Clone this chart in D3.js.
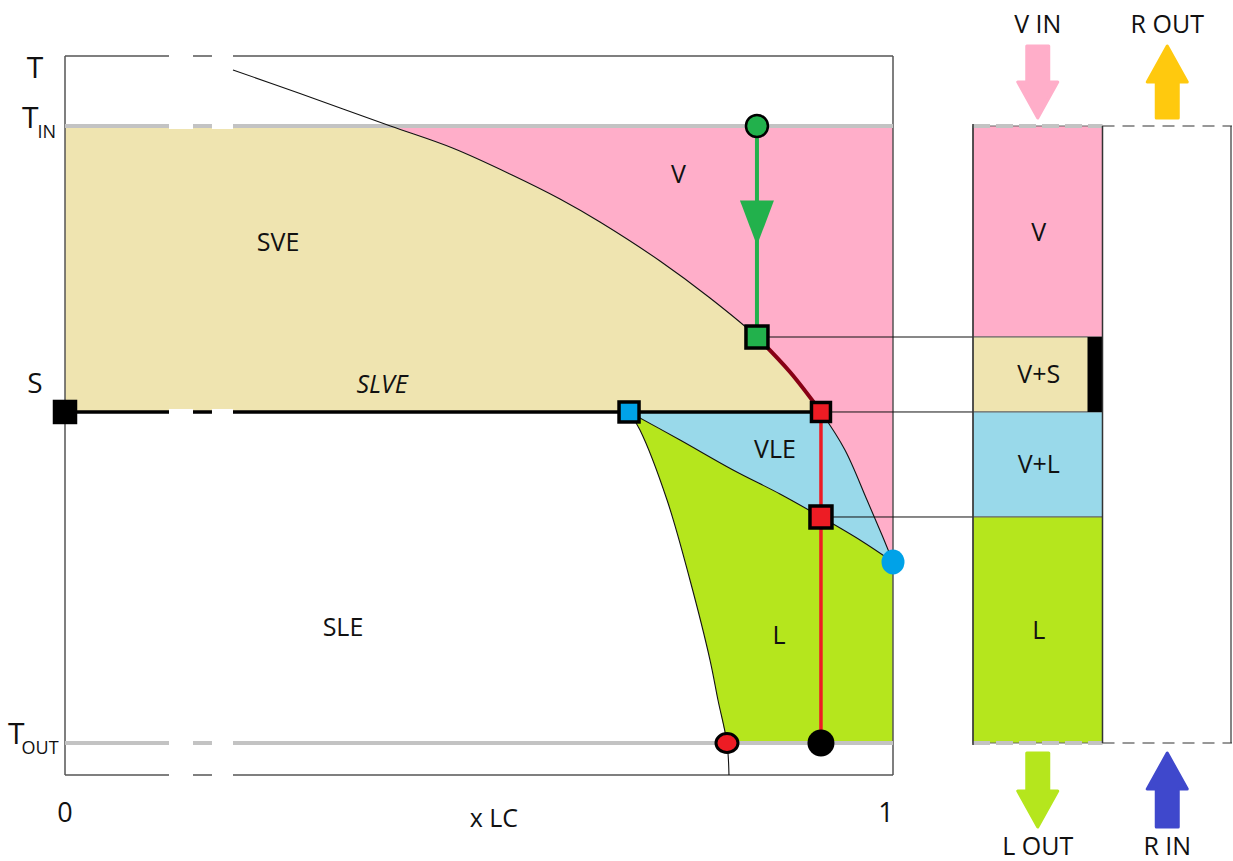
<!DOCTYPE html>
<html>
<head>
<meta charset="utf-8">
<script src="https://cdn.jsdelivr.net/npm/d3@7"></script>
<style>
  body { margin: 0; background: #fff; }
  text { font-family: "Open Sans", sans-serif; fill: #111; }
</style>
</head>
<body>
<div id="chart"></div>
<script>
// temperatures (T_OUT = 0, T_IN = 1) and compositions (x LC, 0..1)
const tTop = 1.1135, tBottom = -0.0519;
const tIn = 1, tOut = 0, tS = 0.5365;
const tDew = 0.658, tBub = 0.3663, tCrit = 0.2934;
const xFeed = 0.8357, xLiq = 0.913, xEut = 0.6812, xSolOut = 0.7995;

// upper (vapour) boundary
const dewX = [0.2029, 0.2838, 0.393, 0.468, 0.5399, 0.5978, 0.6461, 0.7186, 0.779, 0.8357, 0.8756, 0.913, 0.942, 0.9686, 0.9867, 1.0];
const dewT = [1.0908, 1.0527, 1.0, 0.9643, 0.9206, 0.8817, 0.8444, 0.7812, 0.7212, 0.658, 0.6013, 0.5365, 0.4749, 0.3938, 0.3371, 0.2934];
// lower VLE boundary
const bubX = [0.6812, 0.7428, 0.8068, 0.8635, 0.913, 0.9601, 1.0];
const bubT = [0.5365, 0.4911, 0.4425, 0.4036, 0.3663, 0.329, 0.2934];
// solid / liquid boundary
const solX = [0.6812, 0.6944, 0.7271, 0.7548, 0.779, 0.7886, 0.7995, 0.8019];
const solT = [0.5365, 0.5073, 0.3938, 0.2642, 0.1345, 0.0697, 0, -0.0519];

// breaks drawn in the horizontal lines
const gaps = [[0.1256, 0.1546], [0.1775, 0.2029]];

// right hand column
const colNames = ["mix", "R"];
const cellLabels = ["V", "V+S", "V+L", "L"];
const cellTop = [tIn, tDew, tS, tBub];
const cellBot = [tDew, tS, tBub, tOut];
const cellColors = ["#ffaec9", "#efe4b0", "#99d9ea", "#b5e61d"];

const arrowLabels = ["V IN", "R OUT", "L OUT", "R IN"];
const arrowCols = ["mix", "R", "mix", "R"];
const arrowSide = ["top", "top", "bottom", "bottom"];
const arrowDir = ["down", "up", "down", "up"];
const arrowColors = ["#ffaec9", "#ffc90e", "#b5e61d", "#3f48cc"];

const regionLabels = [
  { text: "V", x: 0.741, t: 0.908 },
  { text: "SVE", x: 0.2573, t: 0.798 },
  { text: "SLVE", x: 0.3829, t: 0.568 },
  { text: "VLE", x: 0.8575, t: 0.462 },
  { text: "SLE", x: 0.3357, t: 0.173 },
  { text: "L", x: 0.8623, t: 0.16 }
];

const W = 1233, H = 861;
const svg = d3.select("#chart").append("svg").attr("width", W).attr("height", H);

const x = d3.scaleLinear().domain([0, 1]).range([65, 893]);
const y = d3.scaleLinear().domain([0, 1]).range([743, 126]);
const colX = d3.scaleBand().domain(colNames).range([973, 1232]);

const pts = (xs, ts) => xs.map((v, i) => [v, ts[i]]);
const dew = pts(dewX, dewT);
const bub = pts(bubX, bubT);
const sol = pts(solX, solT);

const line = d3.line().x(d => x(d[0])).y(d => y(d[1])).curve(d3.curveCatmullRom);
const poly = d3.line().x(d => x(d[0])).y(d => y(d[1])).curve(d3.curveLinear);

// sample a smooth curve so fills follow the same shape as the line
function sampled(p) {
  const tmp = svg.append("path").attr("d", line(p));
  const node = tmp.node(), len = node.getTotalLength(), out = [];
  for (let i = 0; i <= 80; i++) {
    const q = node.getPointAtLength(len * i / 80);
    out.push([x.invert(q.x), y.invert(q.y)]);
  }
  tmp.remove();
  return out;
}

const dewTan = sampled(dew.slice(2, 12));
const dewPink = sampled(dew.slice(2));
const dewVle = sampled(dew.slice(11));
const bubS = sampled(bub);
const solS = sampled(sol.slice(0, 7));

// fills
svg.append("path").attr("fill", "#efe4b0")
  .attr("d", poly([[0, tIn], ...dewTan, [0, tS]]) + "Z");
svg.append("path").attr("fill", "#ffaec9")
  .attr("d", poly([...dewPink, [1, tIn]]) + "Z");
svg.append("path").attr("fill", "#99d9ea")
  .attr("d", poly([[xEut, tS], ...dewVle, ...bubS.slice().reverse()]) + "Z");
svg.append("path").attr("fill", "#b5e61d")
  .attr("d", poly([...bubS, [1, tOut], ...solS.slice().reverse()]) + "Z");

// frame
const frame = svg.append("g").attr("fill", "none").attr("stroke", "#555").attr("stroke-width", 1.5);
frame.append("line").attr("x1", x(0)).attr("x2", x(1)).attr("y1", y(tTop)).attr("y2", y(tTop));
frame.append("line").attr("x1", x(0)).attr("x2", x(1)).attr("y1", y(tBottom)).attr("y2", y(tBottom));
frame.append("line").attr("x1", x(0)).attr("x2", x(0)).attr("y1", y(tTop)).attr("y2", y(tBottom));
frame.append("line").attr("x1", x(1)).attr("x2", x(1)).attr("y1", y(tTop)).attr("y2", y(tBottom));

// T_IN / T_OUT / S lines
[tIn, tOut].forEach(t => {
  svg.append("line").attr("x1", x(0)).attr("x2", x(1)).attr("y1", y(t)).attr("y2", y(t))
    .attr("stroke", "#c3c3c3").attr("stroke-width", 4);
});
svg.append("line").attr("x1", x(0)).attr("x2", x(xLiq)).attr("y1", y(tS)).attr("y2", y(tS))
  .attr("stroke", "#000").attr("stroke-width", 3.5);

// breaks
[tTop, tIn, tS, tOut, tBottom].forEach(t => {
  gaps.forEach(g => {
    svg.append("rect").attr("x", x(g[0])).attr("width", x(g[1]) - x(g[0]))
      .attr("y", y(t) - 3).attr("height", 6).attr("fill", "#fff");
  });
});

// boundary curves
const curves = svg.append("g").attr("fill", "none").attr("stroke", "#111").attr("stroke-width", 1.1);
curves.append("path").attr("d", line(dew));
curves.append("path").attr("d", line(bub));
curves.append("path").attr("d", line(sol));

// path of the feed
svg.append("path").attr("d", line(dew.slice(9, 12)))
  .attr("fill", "none").attr("stroke", "#880015").attr("stroke-width", 4);
svg.append("line").attr("x1", x(xFeed)).attr("x2", x(xFeed)).attr("y1", y(tIn)).attr("y2", y(tDew))
  .attr("stroke", "#22b14c").attr("stroke-width", 4);
const ay = y((tIn + tDew) / 2);
svg.append("path").attr("fill", "#22b14c")
  .attr("d", `M${x(xFeed) - 17},${ay - 31} L${x(xFeed) + 17},${ay - 31} L${x(xFeed)},${ay + 14} Z`);
svg.append("line").attr("x1", x(xLiq)).attr("x2", x(xLiq)).attr("y1", y(tS)).attr("y2", y(tOut))
  .attr("stroke", "#ed1c24").attr("stroke-width", 3.5);

// connectors to the column
[[xFeed, tDew], [xLiq, tS], [xLiq, tBub]].forEach(p => {
  svg.append("line").attr("x1", x(p[0])).attr("x2", colX("mix") + colX.bandwidth())
    .attr("y1", y(p[1])).attr("y2", y(p[1])).attr("stroke", "#111").attr("stroke-width", 1);
});

// markers
function square(xv, tv, size, fill) {
  svg.append("rect").attr("x", x(xv) - size / 2).attr("y", y(tv) - size / 2)
    .attr("width", size).attr("height", size).attr("fill", fill)
    .attr("stroke", "#000").attr("stroke-width", 3.5);
}
function dot(xv, tv, rx, ry, fill, sw) {
  svg.append("ellipse").attr("cx", x(xv)).attr("cy", y(tv)).attr("rx", rx).attr("ry", ry)
    .attr("fill", fill).attr("stroke", "#000").attr("stroke-width", sw);
}
square(0, tS, 21, "#000");
square(xFeed, tDew, 22, "#22b14c");
square(xEut, tS, 20, "#00a2e8");
square(xLiq, tS, 19, "#ed1c24");
square(xLiq, tBub, 22, "#ed1c24");
dot(xFeed, tIn, 11, 11, "#22b14c", 2.5);
dot(1, tCrit, 11.5, 12.5, "#00a2e8", 0);
dot(xSolOut, tOut, 11, 9.5, "#ed1c24", 3);
dot(xLiq, tOut, 13.5, 13.5, "#000", 0);

// region labels
svg.selectAll("text.region").data(regionLabels).join("text")
  .attr("class", "region")
  .attr("x", d => x(d.x)).attr("y", d => y(d.t))
  .attr("text-anchor", "middle").attr("font-size", 25)
  .attr("font-style", d => d.text === "SLVE" ? "italic" : null)
  .text(d => d.text);

// axis labels
svg.append("text").attr("x", 35).attr("y", y(tTop) + 22).attr("text-anchor", "middle")
  .attr("font-size", 30).text("T");
const tin = svg.append("text").attr("x", 22).attr("y", y(tIn) + 2).attr("font-size", 30);
tin.append("tspan").text("T");
tin.append("tspan").attr("font-size", 18).attr("dx", -1).attr("dy", 10).text("IN");
const tout = svg.append("text").attr("x", 8).attr("y", y(tOut) + 1).attr("font-size", 30);
tout.append("tspan").text("T");
tout.append("tspan").attr("font-size", 18).attr("dx", -3).attr("dy", 10).text("OUT");
svg.append("text").attr("x", 35).attr("y", y(tS) - 19).attr("text-anchor", "middle")
  .attr("font-size", 28).text("S");
svg.append("text").attr("x", x(0)).attr("y", 822).attr("text-anchor", "middle")
  .attr("font-size", 27).text("0");
svg.append("text").attr("x", x(1) - 7).attr("y", 822).attr("text-anchor", "middle")
  .attr("font-size", 27).text("1");
svg.append("text").attr("x", x(0.518)).attr("y", 827).attr("text-anchor", "middle")
  .attr("font-size", 25).text("x LC");

// column
const cx0 = colX("mix"), cw = colX.bandwidth();
cellLabels.forEach((lab, i) => {
  svg.append("rect").attr("x", cx0).attr("width", cw)
    .attr("y", y(cellTop[i])).attr("height", y(cellBot[i]) - y(cellTop[i]))
    .attr("fill", cellColors[i]).attr("stroke", "#666").attr("stroke-width", 1);
});
svg.append("rect").attr("x", cx0 + cw - 15).attr("width", 15)
  .attr("y", y(tDew)).attr("height", y(tS) - y(tDew)).attr("fill", "#000");
cellLabels.forEach((lab, i) => {
  svg.append("text").attr("x", cx0 + cw / 2 + 1).attr("y", (y(cellTop[i]) + y(cellBot[i])) / 2 + 9)
    .attr("text-anchor", "middle").attr("font-size", 25).text(lab);
});
[tIn, tOut].forEach(t => {
  svg.append("line").attr("x1", cx0).attr("x2", cx0 + cw).attr("y1", y(t)).attr("y2", y(t))
    .attr("stroke", "#c3c3c3").attr("stroke-width", 4).attr("stroke-dasharray", "17 6");
});
svg.append("line").attr("x1", cx0).attr("x2", cx0).attr("y1", y(tIn) - 2).attr("y2", y(tOut) + 2)
  .attr("stroke", "#333").attr("stroke-width", 1.5);

// R box
const rx0 = colX("R");
svg.append("line").attr("x1", rx0 + cw - 1).attr("x2", rx0 + cw - 1).attr("y1", y(tIn)).attr("y2", y(tOut))
  .attr("stroke", "#333").attr("stroke-width", 1.2);
svg.append("line").attr("x1", rx0).attr("x2", rx0).attr("y1", y(tIn)).attr("y2", y(tOut))
  .attr("stroke", "#333").attr("stroke-width", 1.5);
[tIn, tOut].forEach(t => {
  svg.append("line").attr("x1", rx0).attr("x2", rx0 + cw).attr("y1", y(t)).attr("y2", y(t))
    .attr("stroke", "#333").attr("stroke-width", 1.2).attr("stroke-dasharray", "12 8");
});

// arrows
arrowLabels.forEach((lab, i) => {
  const cx = colX(arrowCols[i]) + cw / 2;
  const top = arrowSide[i] === "top";
  const a = top ? 46 : 753, b = top ? 118 : 827;
  const tail = arrowDir[i] === "down" ? a : b;
  const tip = arrowDir[i] === "down" ? b : a;
  const s = Math.sign(tip - tail), hb = tip - s * 36;
  svg.append("path").attr("fill", arrowColors[i]).attr("stroke", arrowColors[i])
    .attr("stroke-width", 3).attr("stroke-linejoin", "round")
    .attr("d", `M${cx - 11},${tail} L${cx + 11},${tail} L${cx + 11},${hb} L${cx + 20},${hb} L${cx},${tip} L${cx - 20},${hb} L${cx - 11},${hb} Z`);
  svg.append("text").attr("x", cx).attr("y", top ? 33 : 855).attr("text-anchor", "middle")
    .attr("font-size", 25).attr("xml:space", "preserve").text(lab);
});
</script>
</body>
</html>
